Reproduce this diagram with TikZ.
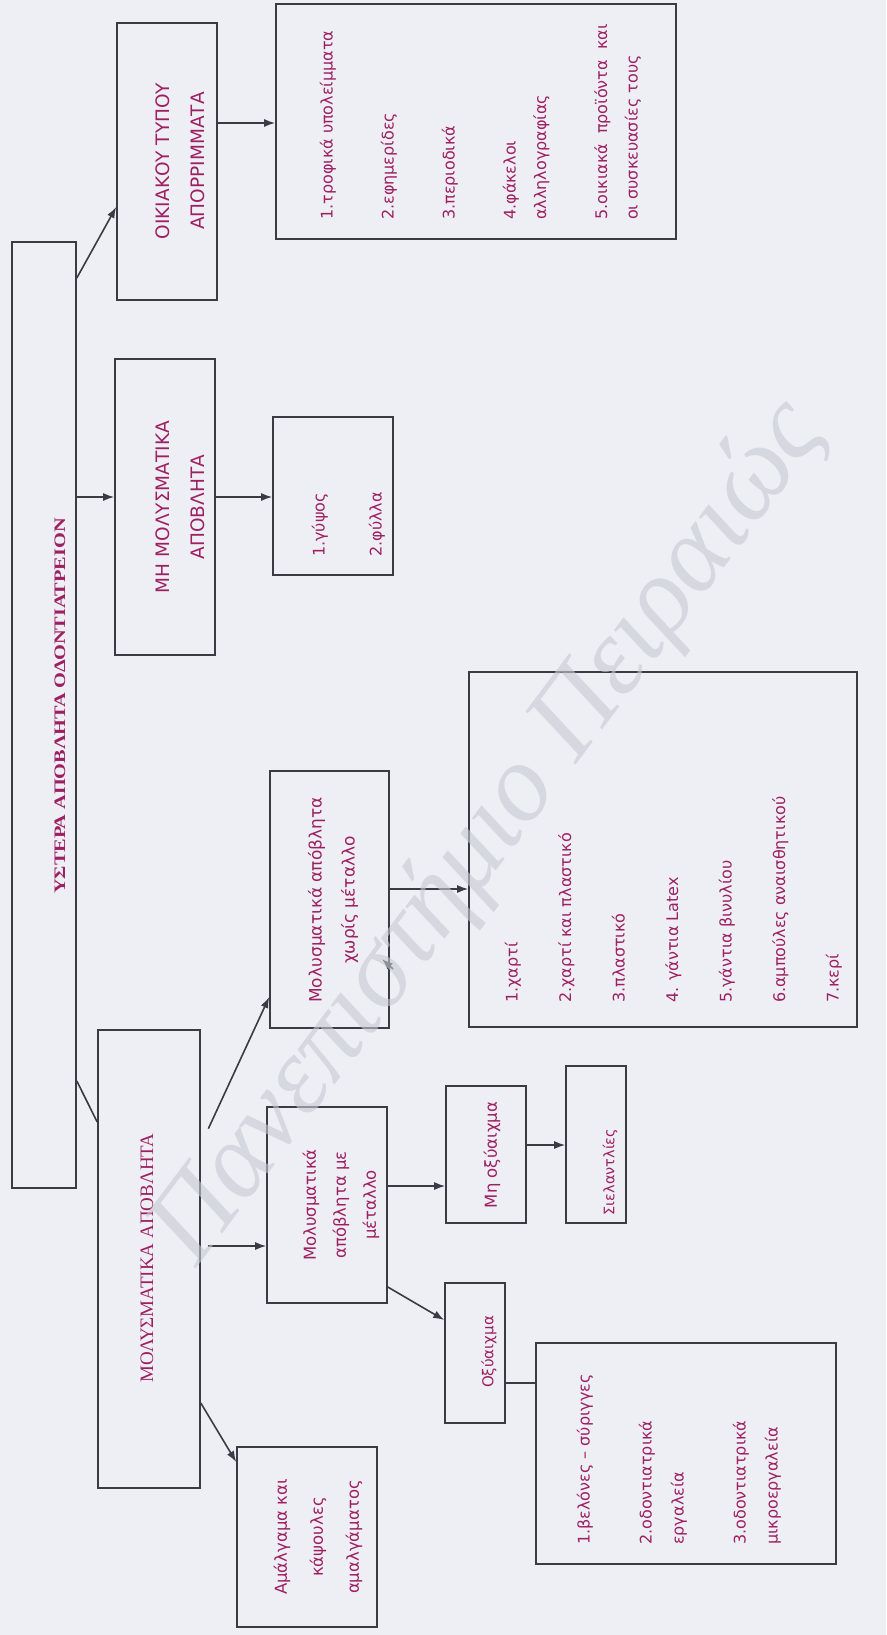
\documentclass[tikz,border=0pt]{standalone}
\usepackage{fontspec}
\setmainfont{Liberation Serif}
\newfontfamily\dvs{DejaVu Sans}
\usetikzlibrary{arrows.meta}
\definecolor{bg}{RGB}{237,239,245}
\definecolor{tc}{RGB}{158,32,98}
\definecolor{ln}{RGB}{58,60,68}
\definecolor{wm}{RGB}{200,202,210}
\begin{document}
\begin{tikzpicture}[x=1pt,y=-1pt,
  box/.style={draw=ln, line width=1.6pt, inner sep=0pt, rectangle},
  lbl/.style={rotate=90, inner sep=0pt, text=tc, align=center},
  lst/.style={rotate=90, inner sep=0pt, text=tc, align=left, anchor=west},
  arr/.style={draw=ln, line width=1.6pt, -{Latex[length=11pt,width=8pt]}},
  con/.style={draw=ln, line width=1.6pt},
]
\fill[bg] (0,0) rectangle (886,1635);
\useasboundingbox (0,0) rectangle (886,1635);

% boxes
\node[box, minimum width=64pt,  minimum height=946pt] (T)    at (44,715) {};
\node[box, minimum width=100pt, minimum height=277pt] (oik)  at (167,161.5) {};
\node[box, minimum width=400pt, minimum height=235pt] (oikL) at (476,121.5) {};
\node[box, minimum width=100pt, minimum height=296pt] (mh)   at (165,507) {};
\node[box, minimum width=120pt, minimum height=158pt] (mhL)  at (333,496) {};
\node[box, minimum width=102pt, minimum height=458pt] (mol)  at (149,1259) {};
\node[box, minimum width=119pt, minimum height=257pt] (xwr)  at (329.5,899.5) {};
\node[box, minimum width=388pt, minimum height=355pt] (xwrL) at (663,849.5) {};
\node[box, minimum width=120pt, minimum height=196pt] (me)   at (327,1205) {};
\node[box, minimum width=80pt,  minimum height=137pt] (mox)  at (486,1154.5) {};
\node[box, minimum width=60pt,  minimum height=157pt] (siel) at (596,1144.5) {};
\node[box, minimum width=60pt,  minimum height=140pt] (ox)   at (475,1353) {};
\node[box, minimum width=300pt, minimum height=221pt] (oxL)  at (686,1453.5) {};
\node[box, minimum width=140pt, minimum height=180pt] (amal) at (307,1537) {};

% labels
\node[lbl, font=\bfseries\fontsize{16}{19}\selectfont] (Tt) at (60,706) {\scalebox{1.27}[1]{ΥΣΤΕΡΑ ΑΠΟΒΛΗΤΑ ΟΔΟΝΤΙΑΤΡΕΙΟΝ}};
\node[lbl, font=\dvs\fontsize{18.5}{35}\selectfont] (oikt) at (180,161) {ΟΙΚΙΑΚΟΥ ΤΥΠΟΥ\\ΑΠΟΡΡΙΜΜΑΤΑ};
\node[lbl, font=\dvs\fontsize{18.5}{35}\selectfont] (mht) at (180,507) {ΜΗ ΜΟΛΥΣΜΑΤΙΚΑ\\ΑΠΟΒΛΗΤΑ};
\node[lbl, font=\fontsize{19}{22}\selectfont] (molt) at (147,1258) {ΜΟΛΥΣΜΑΤΙΚΑ ΑΠΟΒΛΗΤΑ};
\node[lbl, font=\dvs\fontsize{17}{33}\selectfont] (xwrt) at (333,900) {Μολυσματικά απόβλητα\\χωρίς μέταλλο};
\node[lbl, font=\dvs\fontsize{16.5}{30}\selectfont] (met) at (341,1205) {Μολυσματικά\\απόβλητα με\\μέταλλο};
\node[lbl, font=\dvs\fontsize{16.5}{30}\selectfont] (moxt) at (492,1155) {Μη οξύαιχμα};
\node[lbl, font=\dvs\fontsize{14.5}{30}\selectfont] (sielt) at (610,1172) {Σιελαντλίες};
\node[lbl, font=\dvs\fontsize{15}{30}\selectfont] (oxt) at (489,1352) {Οξύαιχμα};
\node[lbl, font=\dvs\fontsize{16.5}{36}\selectfont] (amalt) at (318,1537) {Αμάλγαμα και\\κάψουλες\\αμαλγάματος};

% lists
\node[lst, font=\dvs\fontsize{16}{30.5}\selectfont] (oikLt) at (480.5,220)
  {1.τροφικά υπολείμματα\\[30.5pt]2.εφημερίδες\\[30.5pt]3.περιοδικά\\[30.5pt]4.φάκελοι\\αλληλογραφίας\\[30.5pt]5.οικιακά\ \ προϊόντα\ \ και\\οι συσκευασίες τους};
\node[lst, font=\dvs\fontsize{16}{57}\selectfont] (mhLt) at (348.5,557) {1.γύψος\\2.φύλλα};
\node[lst, font=\dvs\fontsize{16}{53.5}\selectfont] (xwrLt) at (673.5,1003)
  {1.χαρτί\\2.χαρτί και πλαστικό\\3.πλαστικό\\4. γάντια Latex\\5.γάντια βινυλίου\\6.αμπούλες αναισθητικού\\7.κερί};
\node[lst, font=\dvs\fontsize{16}{32}\selectfont] (oxLt) at (679,1545)
  {1.βελόνες – σύριγγες\\[30pt]2.οδοντιατρικά\\εργαλεία\\[30pt]3.οδοντιατρικά\\μικροεργαλεία};

% connectors
\draw[arr] (T.east |- 0,278) -- (oik.west |- 0,207);
\draw[arr] (T.east |- 0,497) -- (mh.west |- 0,497);
\draw[con] (T.east |- 0,1081) -- (mol.west |- 0,1122);
\draw[arr] (oik.east |- 0,123) -- (oikL.west |- 0,123);
\draw[arr] (mh.east |- 0,497) -- (mhL.west |- 0,497);
\draw[arr, shorten <=18pt] (mol.east |- 0,1145) -- (xwr.west |- 0,997);
\draw[arr, shorten <=7pt] (mol.east |- 0,1246) -- (me.west |- 0,1246);
\draw[arr] (mol.east |- 0,1403) -- (amal.west |- 0,1462);
\draw[arr] (xwr.east |- 0,889) -- (xwrL.west |- 0,889);
\draw[arr] (me.east |- 0,1186) -- (mox.west |- 0,1186);
\draw[arr] (me.east |- 0,1287) -- (ox.west |- 0,1320);
\draw[arr] (mox.east |- 0,1145) -- (siel.west |- 0,1145);
\draw[con] (ox.east |- 0,1383) -- (oxL.west |- 0,1383);
\coordinate (st) at (393,969);
\draw[arr] (st) -- ++(-11,-10);

% watermark
\node[rotate=53, text=wm, opacity=0.6, font=\itshape\fontsize{110}{110}\selectfont] (wmk) at (490,834) {Πανεπιστήμιο Πειραιώς};
\end{tikzpicture}
\end{document}
